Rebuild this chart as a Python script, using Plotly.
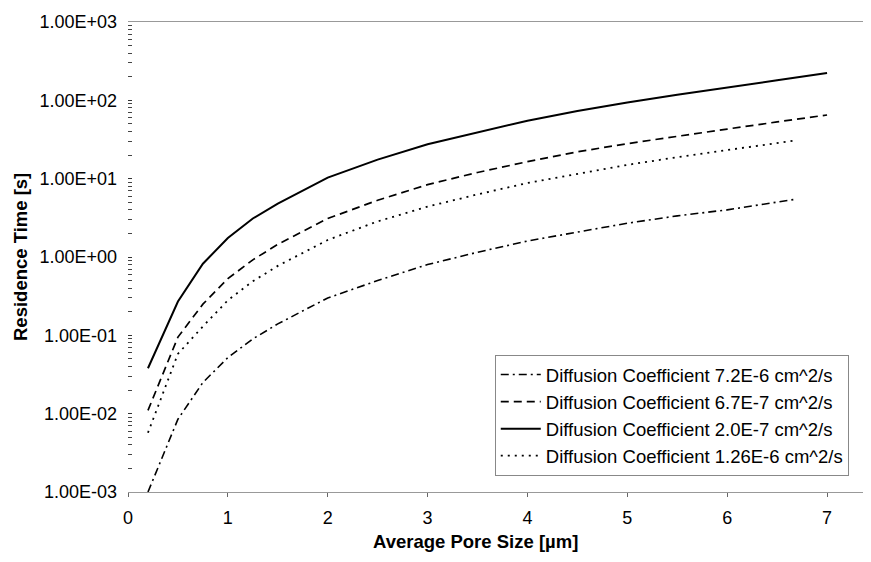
import plotly.graph_objects as go

# ---- data ----
x_long = [0.2, 0.5, 0.75, 1.0, 1.25, 1.5, 2.0, 2.5, 3.0, 3.5, 4.0, 4.5, 5.0, 5.5, 6.0, 6.5, 7.0]
x_short = [0.2, 0.5, 0.75, 1.0, 1.25, 1.5, 2.0, 2.5, 3.0, 3.5, 4.0, 4.5, 5.0, 5.5, 6.0, 6.7]

d72e6 = [0.001, 0.0085, 0.025, 0.052, 0.09, 0.14, 0.3, 0.5, 0.8, 1.15, 1.6, 2.1, 2.7, 3.35, 4.0, 5.5]
d67e7 = [0.011, 0.095, 0.25, 0.53, 0.92, 1.45, 3.1, 5.3, 8.4, 12, 16.5, 22, 28, 35, 43, 53, 65]
d20e7 = [0.038, 0.27, 0.82, 1.75, 3.1, 4.8, 10.3, 17.5, 27.5, 39, 55, 73, 94, 118, 145, 180, 224]
d126e6 = [0.0057, 0.058, 0.13, 0.28, 0.49, 0.77, 1.65, 2.85, 4.4, 6.3, 8.8, 11.6, 15, 18.8, 23, 31]

names = [
    "Diffusion Coefficient 7.2E-6 cm^2/s",
    "Diffusion Coefficient 6.7E-7 cm^2/s",
    "Diffusion Coefficient 2.0E-7 cm^2/s",
    "Diffusion Coefficient 1.26E-6 cm^2/s",
]

y_tickvals = [1e-3, 1e-2, 1e-1, 1e0, 1e1, 1e2, 1e3]
y_ticktext = ["1.00E-03", "1.00E-02", "1.00E-01", "1.00E+00", "1.00E+01", "1.00E+02", "1.00E+03"]
x_tickvals = [0, 1, 2, 3, 4, 5, 6, 7]

FONT = "Liberation Sans, Arial, Helvetica, sans-serif"

fig = go.Figure()
series = [
    (x_short, d72e6, names[0], "8px,4px,2px,4px", 1.6),
    (x_long, d67e7, names[1], "8px,5px", 1.7),
    (x_long, d20e7, names[2], "solid", 2.0),
    (x_short, d126e6, names[3], "2px,5px", 1.8),
]
for xs, ys, nm, dash, w in series:
    fig.add_trace(go.Scatter(x=xs, y=ys, mode="lines", name=nm,
                             line=dict(color="black", width=w, dash=dash)))

minor_vals = [k * 10.0 ** n for n in range(-3, 3) for k in range(2, 10)]

# page body has an 8px margin: figure sized so that the page is exactly 871x562
fig.update_layout(
    width=855, height=546,
    margin=dict(l=120, r=0, t=14, b=62),
    plot_bgcolor="white", paper_bgcolor="white",
    font=dict(family=FONT, color="black", size=18),
    showlegend=True,
    legend=dict(
        x=0.499, y=0.034, xanchor="left", yanchor="bottom",
        bgcolor="white", bordercolor="#888888", borderwidth=1,
        font=dict(family=FONT, size=18.5, color="black"),
        tracegroupgap=0, itemwidth=40,
    ),
    xaxis=dict(
        range=[0, 7.36], tickmode="array", tickvals=x_tickvals,
        showgrid=False, zeroline=False,
        showline=True, mirror=True, linecolor="#999999", linewidth=1,
        ticks="outside", ticklen=4, tickcolor="#666666",
        tickfont=dict(family=FONT, size=18, color="black"),
        ticklabelstandoff=5,
    ),
    yaxis=dict(
        type="log", range=[-3, 3],
        tickmode="array", tickvals=y_tickvals, ticktext=y_ticktext,
        showgrid=False, zeroline=False, showline=False,
        ticks="inside", ticklen=4, tickcolor="#333333",
        minor=dict(tickmode="array", tickvals=minor_vals, ticks="inside",
                   ticklen=4, tickcolor="#444444"),
        tickfont=dict(family=FONT, size=18, color="black"),
        ticklabelstandoff=10,
    ),
    annotations=[
        dict(text="<b>Average Pore Size [µm]</b>", xref="paper", yref="paper",
             x=(475 - 128) / 735, y=-(541 - 492) / 470, xanchor="center", yanchor="middle",
             showarrow=False, font=dict(family=FONT, size=18.5, color="black")),
        dict(text="<b>Residence Time [s]</b>", xref="paper", yref="paper",
             x=-(128 - 20) / 735, y=0.5, xanchor="center", yanchor="middle",
             textangle=-90, showarrow=False, font=dict(family=FONT, size=18.5, color="black")),
    ],
)

fig.write_html("out.html")
